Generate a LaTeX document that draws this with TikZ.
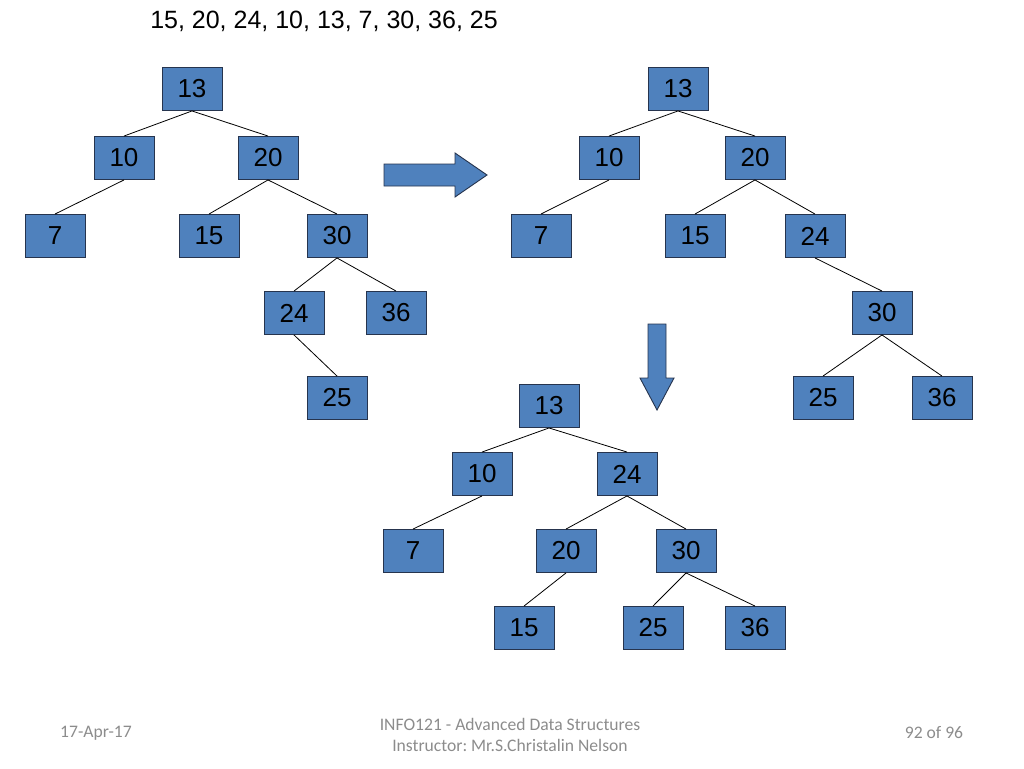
\documentclass[tikz,border=0pt]{standalone}
\usepackage{fontspec}
\setmainfont{Liberation Sans}
\newfontfamily\footfont{Carlito}
\frenchspacing

\definecolor{keyfill}{RGB}{79,129,189}
\definecolor{keyline}{RGB}{38,52,78}
\definecolor{footgray}{RGB}{140,140,140}

\tikzset{
  key/.style={draw=keyline,fill=keyfill,line width=0.9pt,minimum width=60pt,
    minimum height=43pt,inner sep=0pt,font=\fontsize{26}{30}\selectfont},
  link/.style={line width=0.8pt},
  bigarrow/.style={draw=keyline,fill=keyfill,line width=0.9pt,line join=miter},
  foot/.style={text=footgray,font=\footfont\fontsize{17.6}{21}\selectfont,align=center}
}

\begin{document}
\begin{tikzpicture}[x=1pt,y=-1pt]
  \useasboundingbox (0,0) rectangle (1024,768);

  % Insertion order
  \node[font=\fontsize{25}{30}\selectfont] (seq) at (324,21) {15, 20, 24, 10, 13, 7, 30, 36, 25};

  % Tree after all insertions
  \foreach \n/\x/\y in {13/192/89,10/124/158,20/268/158,7/55/236,15/209/236,
                        30/337/236,24/294/313,36/396/313,25/337/398}
     {\node[key] (a\n) at (\x,\y) {\n};}
  \foreach \p/\c in {13/10,13/20,10/7,20/15,20/30,30/24,30/36,24/25}
     {\draw[link] (a\p.south) -- (a\c.north);}

  % After deleting 30 (right rotation)
  \foreach \n/\x/\y in {13/678/89,10/609/158,20/755/158,7/541/236,15/695/236,
                        24/815/236,30/882/313,25/823/398,36/942/398}
     {\node[key] (b\n) at (\x,\y) {\n};}
  \foreach \p/\c in {13/10,13/20,10/7,20/15,20/24,24/30,30/25,30/36}
     {\draw[link] (b\p.south) -- (b\c.north);}

  % Balanced result
  \foreach \n/\x/\y in {13/549/406,10/482/474,24/627/474,7/413/551,20/566/551,
                        30/686/551,15/524/628,25/653/628,36/755/628}
     {\node[key] (c\n) at (\x,\y) {\n};}
  \foreach \p/\c in {13/10,13/24,10/7,24/20,24/30,20/15,30/25,30/36}
     {\draw[link] (c\p.south) -- (c\c.north);}

  % Block arrows
  \draw[bigarrow] (384,164) -- (455,164) -- (455,153) -- (487,175) -- (455,197)
     -- (455,186) -- (384,186) -- cycle;
  \draw[bigarrow] (648,324) -- (666,324) -- (666,378) -- (674,378) -- (657,410)
     -- (640,378) -- (648,378) -- cycle;

  % Footer
  \node[foot] (date) at (96,733) {17-Apr-17};
  \node[foot] (course) at (510,735) {INFO121 - Advanced Data Structures\\Instructor: Mr.S.Christalin Nelson};
  \node[foot] (page) at (934,733) {92 of 96};
\end{tikzpicture}
\end{document}
